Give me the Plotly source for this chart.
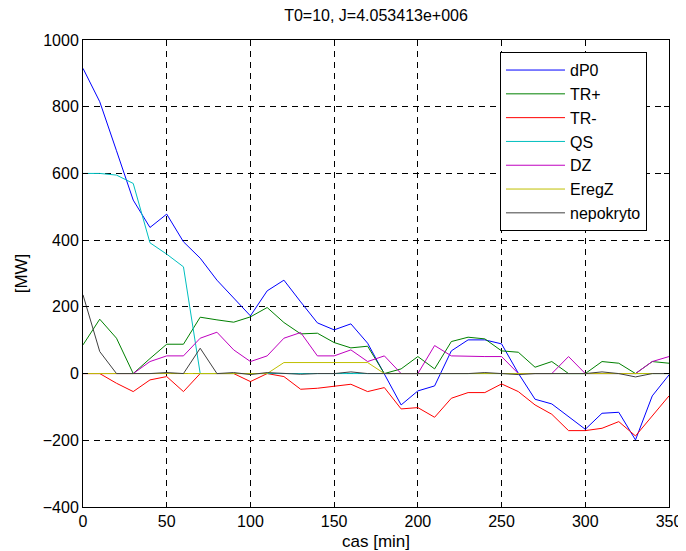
import plotly.graph_objects as go

t = [0, 10, 20, 30, 40, 50, 60, 70, 80, 90, 100, 110, 120, 130, 140, 150, 160, 170,
     180, 190, 200, 210, 220, 230, 240, 250, 260, 270, 280, 290, 300, 310, 320, 330, 340, 350]

dP0 = [915, 815, 668, 520, 438, 478, 395, 346, 280, 226, 173, 248, 280, 215, 152, 131, 149, 91,
       0, -94, -52, -37, 68, 101, 101, 89, 1, -77, -91, -129, -167, -119, -116, -199, -67, -4]
TRp = [86, 163, 106, 0, 45, 88, 88, 169, 161, 154, 170, 198, 153, 119, 121, 93, 77, 82,
       0, 14, 51, 14, 96, 109, 104, 68, 64, 19, 36, 0, 0, 36, 31, 0, 36, 31]
TRm = [0, 0, -29, -54, -19, -9, -54, 0, 0, 0, -24, 0, -9, -47, -44, -37, -32, -54,
       -42, -106, -102, -131, -74, -57, -57, -31, -54, -94, -122, -171, -171, -164, -144, -187, -127, -67]
QS = [600, 600, 595, 570, 392, 358, 320, 0, 0, 0, 0, 0, 0, 0, 0, 0, 0, 0,
      0, 0, 0, 0, 0, 0, 0, 0, 0, 0, 0, 0, 0, 0, 0, 0, 0, 0]
DZ = [0, 0, 0, 0, 36, 53, 53, 106, 124, 71, 36, 53, 106, 123, 53, 53, 71, 36,
      53, 0, 0, 84, 53, 51, 51, 51, 0, 0, 0, 51, 0, 0, 0, 0, 36, 51]
EregZ = [0, 0, 0, 0, 0, 0, 0, 0, 0, 0, 0, 0, 33, 33, 33, 33, 33, 33,
         0, 0, 0, 0, 0, 0, 0, 0, 0, 0, 0, 0, 0, 0, 0, 0, 0, 0]
nepokryto = [236, 66, 0, 0, 0, 3, 0, 76, 0, 3, -3, 3, 0, -2, 0, 0, 5, 0,
             0, 0, 0, 0, 0, 0, 3, 0, -3, 0, 0, 0, 0, 5, 0, -10, 0, 0]

names = ["dP0", "TR+", "TR-", "QS", "DZ", "EregZ", "nepokryto"]
series = [dP0, TRp, TRm, QS, DZ, EregZ, nepokryto]
colors = ["#0000ff", "#008000", "#ff0000", "#00bfbf", "#bf00bf", "#bfbf00", "#404040"]

x_ticks = [0, 50, 100, 150, 200, 250, 300, 350]
y_ticks = [-400, -200, 0, 200, 400, 600, 800, 1000]

fig = go.Figure()
for name, y, c in zip(names, series, colors):
    fig.add_trace(go.Scatter(x=t, y=y, name=name, mode="lines",
                             line=dict(color=c, width=1), legendgroup=name))

font = "Liberation Sans, Arial, sans-serif"
axis_common = dict(
    showline=True, linecolor="black", linewidth=1, mirror="ticks",
    ticks="inside", ticklen=5, tickcolor="black", automargin=False,
    ticklabeloverflow="allow",
    showgrid=True, gridcolor="black", griddash="6px,5px", gridwidth=1,
    zeroline=False, tickfont=dict(family=font, size=16, color="black"),
)

fig.update_xaxes(range=[0, 350], tickvals=x_ticks, **axis_common,
                 title=dict(text="cas [min]", font=dict(family=font, size=17, color="black"), standoff=5))
fig.update_yaxes(range=[-400, 1000], tickvals=y_ticks, **axis_common,
                 title=dict(text="[MW]", font=dict(family=font, size=17, color="black"), standoff=10))

# page body has an 8px margin, so the figure is sized/offset to land on the reference frame
W, H = 678, 543
fig.update_layout(
    width=W, height=H,
    margin=dict(l=75, r=17, t=32, b=44),
    paper_bgcolor="white", plot_bgcolor="white",
    title=dict(text="T0=10, J=4.053413e+006", x=(75 + W - 17) / 2 / W, xanchor="center",
               y=1 - 7 / H, yanchor="middle",
               font=dict(family=font, size=16, color="black")),
    legend=dict(x=0.7116, y=0.974, xanchor="left", yanchor="top",
                bgcolor="white", bordercolor="black", borderwidth=1,
                font=dict(family=font, size=16, color="black"),
                traceorder="grouped", tracegroupgap=0, itemwidth=59),
    showlegend=True,
)

fig.write_html("out.html")
